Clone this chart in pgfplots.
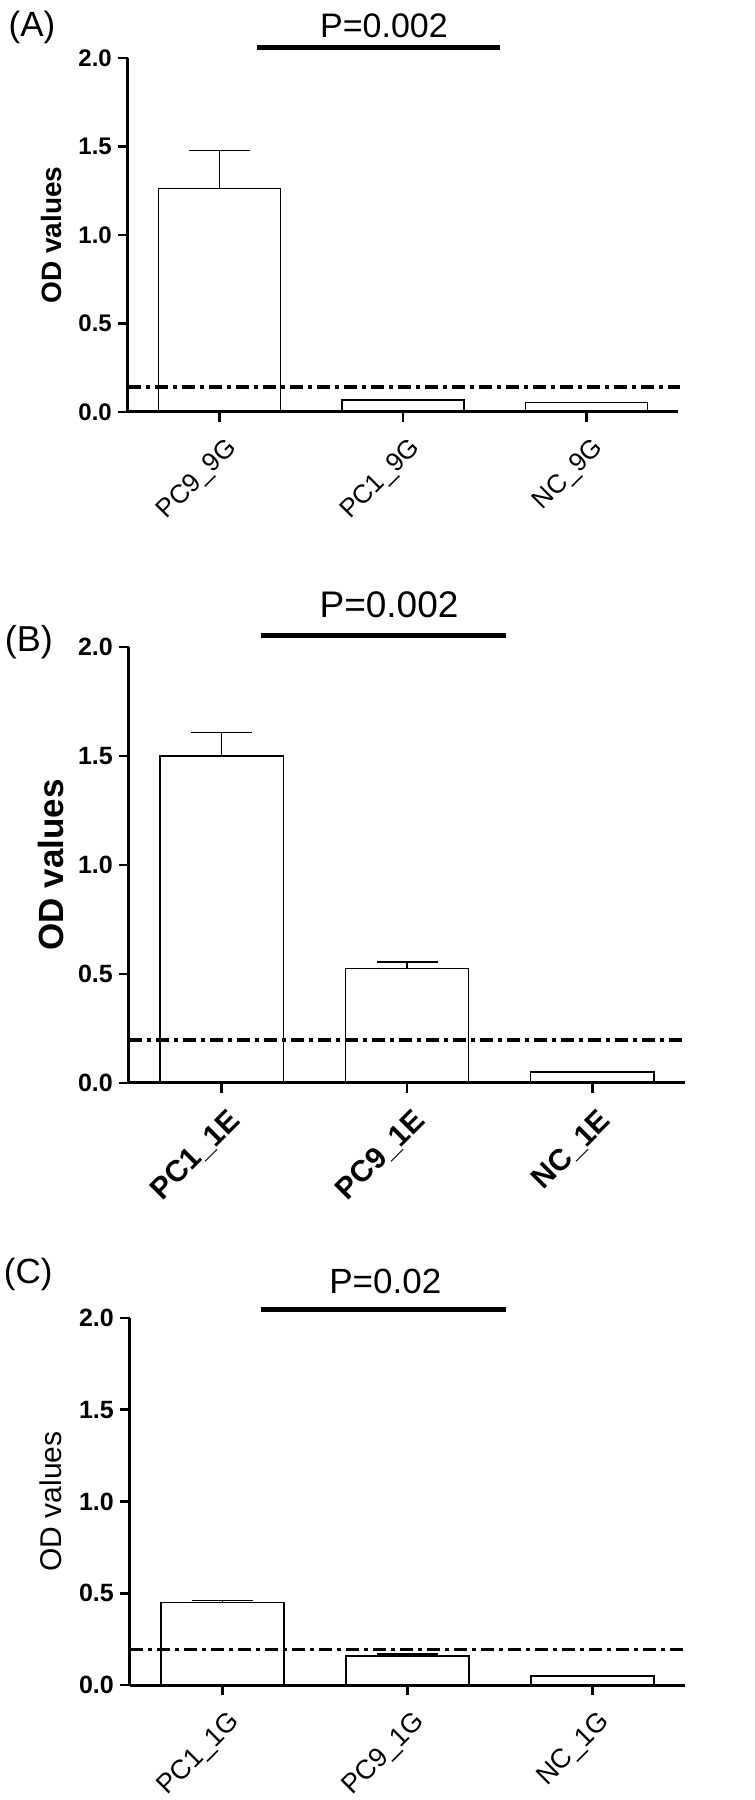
\documentclass[border=0pt]{standalone}
\usepackage{fontspec}
\setmainfont{Liberation Sans}
\usepackage{pgfplots}
\pgfplotsset{compat=1.18}

\pgfplotsset{
  odpanel/.style={
    scale only axis, anchor=south west, axis on top,
    xmin=-0.5, xmax=2.5, ymin=0, ymax=2,
    axis lines=left,
    axis line style={-, line width=3pt},
    xtick={0,1,2}, ytick={0,0.5,1,1.5,2},
    yticklabels={0.0,0.5,1.0,1.5,2.0},
    tick align=outside, major tick length=10pt,
    tick style={line width=2.5pt, black},
    xticklabel style={xshift=5pt, yshift=-14pt, rotate=45, anchor=north east, inner sep=0pt},
    yticklabel style={inner sep=0pt, xshift=-6pt},
    clip=false,
    ylabel={OD values},
  },
  odbar/.style={ybar, bar width=0.665, fill=white, draw=black, line width=1.5pt},
  oderr/.style={draw=none, mark=none, forget plot,
    error bars/.cd, y dir=plus, y explicit,
    error bar style={line width=1.5pt, draw=black},
    error mark options={rotate=90, mark size=30.5pt, line width=1.5pt, draw=black}},
  cutoff/.style={black, line width=3.5pt, dash pattern=on 13pt off 5pt on 4pt off 5pt},
  pbar/.style={black, line width=5pt},
}

\begin{document}
\begin{tikzpicture}
\useasboundingbox (0,0) rectangle (755pt,1800pt);

% (A)
\begin{axis}[odpanel,
  at={(128pt,1388pt)}, width=550pt, height=354pt,
  xticklabels={PC9\_9G,PC1\_9G,NC\_9G},
  xticklabel style={font=\fontsize{26}{30}\selectfont},
  yticklabel style={font=\fontsize{24}{28}\selectfont\bfseries},
  every axis y label/.style={at={(rel axis cs:-0.14,0.5)}, rotate=90, anchor=center,
    font=\fontsize{28}{32}\selectfont\bfseries},
]
\addplot[odbar] coordinates {(0,1.263) (1,0.067) (2,0.053)};
\addplot[oderr] coordinates {(0,1.263) +- (0,0.214)};
\addplot[cutoff] coordinates {(-0.5,0.141) (2.51,0.141)};
\addplot[pbar] coordinates {(0.205,2.062) (1.527,2.062)};
\node[font=\fontsize{34}{38}\selectfont] at (axis cs:0.896,2.18) {P=0.002};
\node[font=\fontsize{35}{40}\selectfont] at (axis cs:-1.024,2.175) {(A)};
\end{axis}

% (B)
\begin{axis}[odpanel,
  at={(129pt,717pt)}, width=556pt, height=436pt,
  xticklabels={PC1\_1E,PC9\_1E,NC\_1E},
  xticklabel style={font=\fontsize{30}{34}\selectfont\bfseries},
  yticklabel style={font=\fontsize{25}{29}\selectfont\bfseries},
  every axis y label/.style={at={(rel axis cs:-0.14,0.5)}, rotate=90, anchor=center,
    font=\fontsize{35}{40}\selectfont\bfseries},
]
\addplot[odbar] coordinates {(0,1.500) (1,0.526) (2,0.051)};
\addplot[oderr] coordinates {(0,1.500) +- (0,0.108) (1,0.526) +- (0,0.028)};
\addplot[cutoff] coordinates {(-0.5,0.198) (2.5,0.198)};
\addplot[pbar] coordinates {(0.21,2.054) (1.535,2.054)};
\node[font=\fontsize{37}{42}\selectfont] at (axis cs:0.903,2.193) {P=0.002};
\node[font=\fontsize{36}{41}\selectfont] at (axis cs:-1.04,2.02) {(B)};
\end{axis}

% (C)
\begin{axis}[odpanel,
  at={(130pt,115pt)}, width=555pt, height=367pt,
  xticklabels={PC1\_1G,PC9\_1G,NC\_1G},
  xticklabel style={font=\fontsize{27}{31}\selectfont},
  yticklabel style={font=\fontsize{25}{29}\selectfont\bfseries},
  every axis y label/.style={at={(rel axis cs:-0.142,0.5)}, rotate=90, anchor=center,
    font=\fontsize{30}{34}\selectfont},
]
\addplot[odbar] coordinates {(0,0.450) (1,0.159) (2,0.049)};
\addplot[oderr] coordinates {(0,0.450) +- (0,0.010) (1,0.159) +- (0,0.009)};
\addplot[cutoff] coordinates {(-0.5,0.193) (2.5,0.193)};
\addplot[pbar] coordinates {(0.208,2.047) (1.532,2.047)};
\node[font=\fontsize{35}{40}\selectfont] at (axis cs:0.88,2.20) {P=0.02};
\node[font=\fontsize{35}{40}\selectfont] at (axis cs:-1.05,2.24) {(C)};
\end{axis}
\end{tikzpicture}
\end{document}
